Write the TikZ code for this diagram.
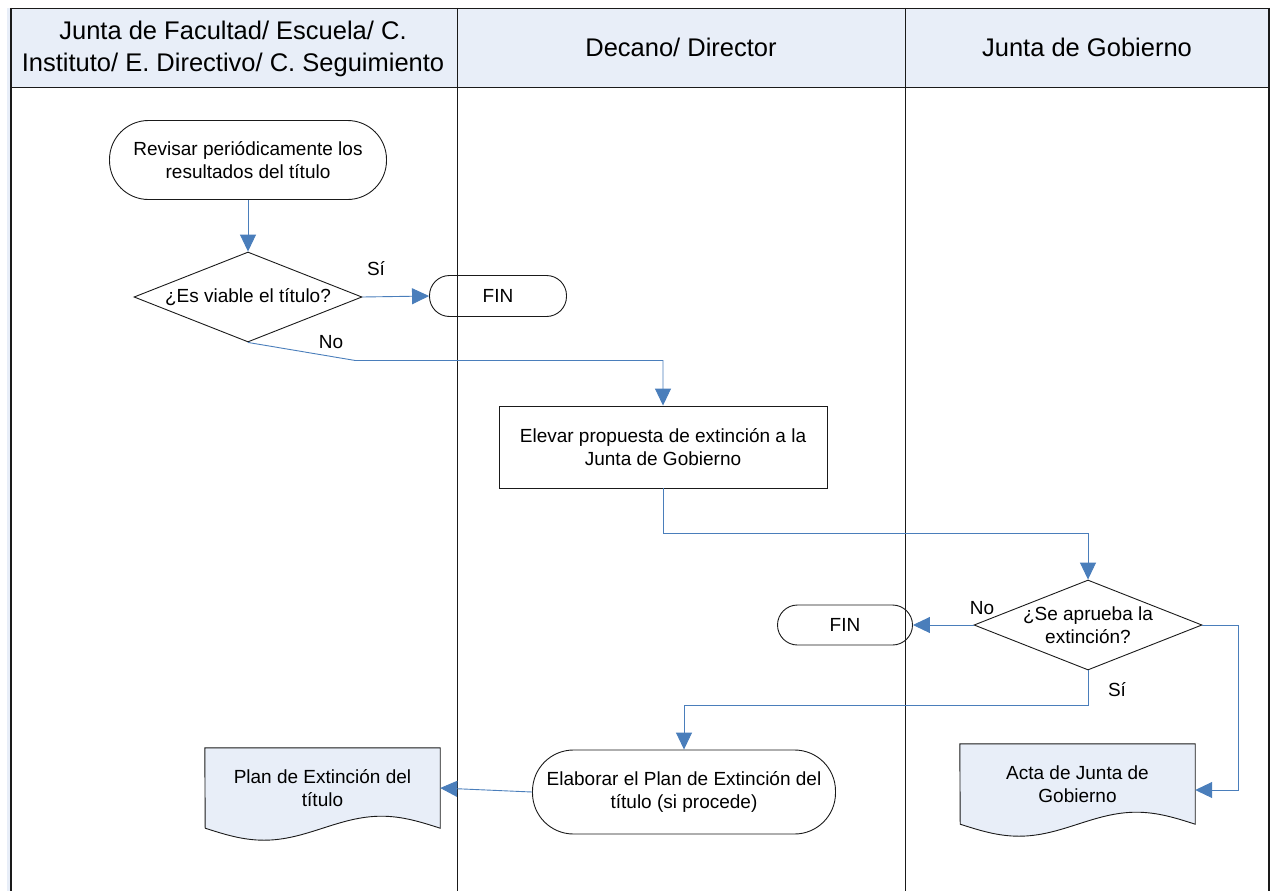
\documentclass[tikz,border=0pt]{standalone}
\usepackage{fontspec}
\setmainfont{Liberation Sans}
\usetikzlibrary{arrows.meta,shapes.geometric,backgrounds}
\definecolor{flink}{HTML}{1A1A1A}
\definecolor{flblue}{HTML}{4A7EBB}
\definecolor{flhead}{HTML}{E8EEF8}

\begin{document}
\begin{tikzpicture}[
        x=1pt, y=-1pt,
        font=\fontsize{19}{23}\selectfont,
        term/.style={draw=flink, line width=0.9pt, align=center, inner sep=1pt},
        proc/.style={draw=flink, line width=0.9pt, align=center, inner sep=2pt},
        dec/.style={draw=flink, line width=0.9pt, diamond, aspect=2.53, align=center,
                    inner sep=-2pt, minimum width=228pt, minimum height=90pt},
        docu/.style={align=center, inner sep=2pt, minimum width=235pt, minimum height=80pt},
        docline/.style={draw=flink, line width=0.9pt, fill=flhead},
        lane/.style={flink, line width=0.9pt},
        hdr/.style={font=\fontsize{25.5}{32}\selectfont, align=center},
        arr/.style={-{Triangle[length=17pt,width=16pt]}, flblue, line width=0.9pt},
        lbl/.style={inner sep=1pt}
    ]
        \useasboundingbox (0,0) rectangle (1274,891);
        % swimlane frame
        \fill[flhead] (10,8) rectangle (1269,87);
        \fill[flhead] (7,8) rectangle (10,891);
        \draw[lane] (10,8) -- (1269,8);
        \draw[lane] (10,87) -- (1269,87);
        \draw[lane] (457,8) -- (457,891);
        \draw[lane] (905,8) -- (905,891);
        \draw[lane, line width=2.2pt] (11,8) -- (11,891);
        \draw[lane, line width=2.2pt] (1269,8) -- (1269,891);
        \node[hdr] (h1) at (233,49) {Junta de Facultad/ Escuela/ C.\\Instituto/ E. Directivo/ C. Seguimiento};
        \node[hdr] (h2) at (681,47) {Decano/ Director};
        \node[hdr] (h3) at (1087,47) {Junta de Gobierno};

        % steps
        \node[term, rounded corners=39pt, minimum width=277pt, minimum height=79pt] (rev) at (248,160)
            {Revisar periódicamente los\\resultados del título};
        \node[dec] (via) at (248,297) {¿Es viable el título?};
        \node[term, rounded corners=20pt, minimum width=137pt, minimum height=41pt] (fin1) at (498,296) {FIN};
        \node[proc, minimum width=328pt, minimum height=82pt] (elev) at (663,447)
            {Elevar propuesta de extinción a la\\Junta de Gobierno};
        \node[dec] (apr) at (1088,625) {¿Se aprueba la\\extinción?};
        \node[term, rounded corners=20pt, minimum width=135pt, minimum height=40pt] (fin2) at (845,625) {FIN};
        \node[term, rounded corners=41pt, minimum width=303pt, minimum height=84pt] (elab) at (684,792)
            {Elaborar el Plan de Extinción del\\título (si procede)};
        \node[docu] (plan) at (322.5,788) {Plan de Extinción del\\título};
        \node[docu] (acta) at (1077.5,784) {Acta de Junta de\\Gobierno};

        % document outlines
        \begin{scope}[on background layer]
            \draw[docline] (plan.north west) -- (plan.north east) -- (plan.south east)
                sin ++(-58.75,-12) cos ++(-58.75,12) sin ++(-58.75,12) cos ++(-58.75,-12) -- cycle;
            \draw[docline] (acta.north west) -- (acta.north east) -- (acta.south east)
                sin ++(-58.75,-12) cos ++(-58.75,12) sin ++(-58.75,12) cos ++(-58.75,-12) -- cycle;
        \end{scope}

        % connectors
        \draw[arr] (rev) -- (via);
        \draw[arr] (via.east) -- (fin1.west);
        \node[lbl] (si1) at (376,269) {Sí};
        \draw[arr] (via.south) -- ++(107,18) -| (elev.north);
        \node[lbl] (no1) at (331,342) {No};
        \draw[arr] (elev.south) -- ++(0,45) -| (apr.north);
        \draw[arr] (apr.west) -- (fin2.east);
        \node[lbl] (no2) at (982,608) {No};
        \draw[arr] (apr.south) -- ++(0,35) -| (elab.north);
        \node[lbl] (si2) at (1117,690) {Sí};
        \draw[arr] (elab.west) -- (plan.east);
        \draw[arr] (apr.east) -- ++(36,0) |- ([yshift=-6pt]acta.east);
    \end{tikzpicture}
\end{document}
